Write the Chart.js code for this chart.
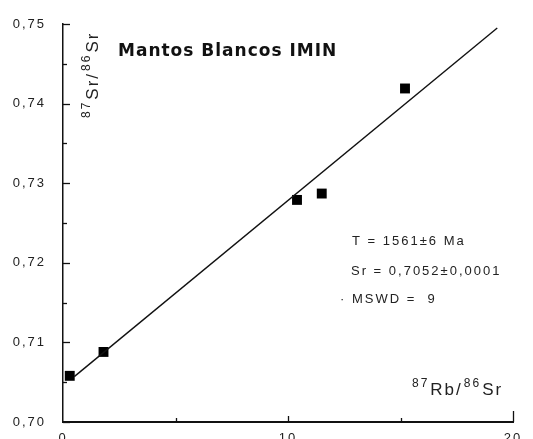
<!DOCTYPE html>
<html>
<head>
<meta charset="utf-8">
<script src="https://cdn.jsdelivr.net/npm/chart.js@4.4.0/dist/chart.umd.min.js"></script>
<style>
  html, body { margin: 0; padding: 0; background: #fff; }
  #wrap { width: 533px; height: 439px; }
</style>
</head>
<body>
<div id="wrap"><canvas id="c" width="533" height="439"></canvas></div>
<script>
// measured samples (87Rb/86Sr vs 87Sr/86Sr)
var rbSr = [0.3, 1.8, 10.4, 11.5, 15.2];
var srSr = [0.7058, 0.7088, 0.7279, 0.7287, 0.7419];
// isochron line end points
var fitX = [0.5, 19.3];
var fitY = [0.7057, 0.7495];
// axis ticks
var yTicks = [0.70, 0.71, 0.72, 0.73, 0.74, 0.75];
var xTicks = [0, 10, 20];
var notes = ['T = 1561±6 Ma', 'Sr = 0,7052±0,0001', 'MSWD =  9'];

var ink = '#111';
var face = '"Liberation Sans", Arial, sans-serif';

var tickPlugin = {
    id: 'inTicks',
    beforeDraw: function (chart) {
        // wide letter spacing like the scanned original
        chart.ctx.letterSpacing = '2px';
    },
    afterDraw: function (chart) {
        var ctx = chart.ctx;
        var xs = chart.scales.x, ys = chart.scales.y;
        var a = chart.chartArea;
        ctx.save();
        ctx.strokeStyle = ink;
        ctx.lineWidth = 1.3;
        // y ticks, major + minor, pointing into the plot
        for (var v = 0.70; v <= 0.7501; v += 0.005) {
            var py = Math.round(ys.getPixelForValue(v)) + 0.5;
            var major = Math.abs(v * 100 - Math.round(v * 100)) < 0.01;
            ctx.beginPath();
            ctx.moveTo(a.left, py);
            ctx.lineTo(a.left + (major ? 7 : 4), py);
            ctx.stroke();
        }
        // x ticks pointing up
        for (var u = 5; u <= 20; u += 5) {
            var px = Math.round(xs.getPixelForValue(u)) + 0.5;
            ctx.beginPath();
            ctx.moveTo(px, a.bottom);
            ctx.lineTo(px, a.bottom - (u === 20 ? 11 : (u % 10 === 0 ? 6 : 4)));
            ctx.stroke();
        }

        // title
        ctx.fillStyle = ink;
        ctx.letterSpacing = '1px';
        ctx.font = 'bold 17px "DejaVu Sans", sans-serif';
        ctx.textBaseline = 'alphabetic';
        ctx.textAlign = 'left';
        ctx.fillText('Mantos Blancos IMIN', 118, 56);

        // isochron notes
        ctx.letterSpacing = '2px';
        ctx.font = '13px ' + face;
        ctx.fillStyle = '#222';
        ctx.fillText(notes[0], 352, 245);
        ctx.fillText(notes[1], 351, 275);
        ctx.fillText(notes[2], 352, 303);
        ctx.fillText('·', 340, 303);

        // x axis title 87Rb/86Sr
        drawIso(ctx, 412, 395, [['87', true], ['Rb/', false], ['86', true], ['Sr', false]]);

        // y axis title 87Sr/86Sr, rotated
        ctx.save();
        ctx.translate(98, 118);
        ctx.rotate(-Math.PI / 2);
        drawIso(ctx, 0, 0, [['87', true], ['Sr/', false], ['86', true], ['Sr', false]]);
        ctx.restore();
        ctx.restore();
    }
};

function drawIso(ctx, x, y, parts) {
    ctx.fillStyle = '#222';
    ctx.textAlign = 'left';
    ctx.textBaseline = 'alphabetic';
    ctx.letterSpacing = '2px';
    for (var i = 0; i < parts.length; i++) {
        var sup = parts[i][1];
        ctx.font = (sup ? '12px ' : '17px ') + face;
        ctx.fillText(parts[i][0], x, sup ? y - 8 : y);
        x += ctx.measureText(parts[i][0]).width + 1;
    }
}

var fitData = fitX.map(function (x, i) { return { x: x, y: fitY[i] }; });
var ptData = rbSr.map(function (x, i) { return { x: x, y: srSr[i] }; });

new Chart(document.getElementById('c').getContext('2d'), {
    type: 'scatter',
    data: {
        datasets: [
            {
                label: 'isochron',
                data: fitData,
                showLine: true,
                borderColor: ink,
                borderWidth: 1.4,
                pointRadius: 0,
                tension: 0
            },
            {
                label: 'samples',
                data: ptData,
                pointStyle: 'rect',
                pointRadius: 7,
                backgroundColor: '#000',
                borderColor: '#000',
                borderWidth: 0
            }
        ]
    },
    options: {
        responsive: false,
        animation: false,
        layout: { padding: { top: 24, right: 20, left: 0, bottom: 0 } },
        plugins: { legend: { display: false }, tooltip: { enabled: false } },
        scales: {
            x: {
                type: 'linear',
                min: 0, max: 20,
                afterBuildTicks: function (s) { s.ticks = xTicks.map(function (v) { return { value: v }; }); },
                afterFit: function (s) { s.height = 17; },
                grid: { display: false },
                border: { display: true, color: ink, width: 2 },
                ticks: {
                    color: '#222', padding: 1,
                    font: { family: face, size: 13 },
                    maxRotation: 0
                }
            },
            y: {
                type: 'linear',
                min: 0.70, max: 0.75,
                afterBuildTicks: function (s) { s.ticks = yTicks.map(function (v) { return { value: v }; }); },
                afterFit: function (s) { s.width = 63; },
                grid: { display: false },
                border: { display: true, color: ink, width: 1.5 },
                ticks: {
                    color: '#222', padding: 9,
                    font: { family: face, size: 13 },
                    callback: function (v) { return v.toFixed(2).replace('.', ','); }
                }
            }
        }
    },
    plugins: [tickPlugin]
});
</script>
</body>
</html>
